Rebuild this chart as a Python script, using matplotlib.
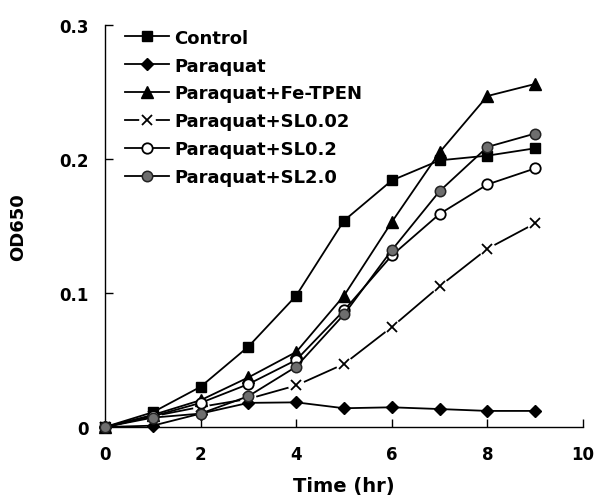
import matplotlib
matplotlib.use("Agg")
import matplotlib.pyplot as plt
from matplotlib.lines import Line2D

plt.rcParams['font.family'] = ['DejaVu Sans']
plt.rcParams['font.weight'] = 'bold'

time_hr = [0, 1, 2, 3, 4, 5, 6, 7, 8, 9]
control = [0, 0.011, 0.030, 0.060, 0.098, 0.154, 0.184, 0.199, 0.2025, 0.208]
paraquat = [0, 0.001, 0.010, 0.018, 0.0184, 0.014, 0.0147, 0.0134, 0.012, 0.012]
fe_tpen = [0, 0.009, 0.020, 0.037, 0.056, 0.098, 0.153, 0.205, 0.247, 0.256]
sl002 = [0, 0.008, 0.015, 0.021, 0.031, 0.047, 0.0746, 0.105, 0.133, 0.152]
sl02 = [0, 0.008, 0.018, 0.032, 0.050, 0.087, 0.128, 0.159, 0.181, 0.193]
sl20 = [0, 0.007, 0.010, 0.023, 0.045, 0.084, 0.132, 0.176, 0.209, 0.219]

labels = ["Control", "Paraquat", "Paraquat+Fe-TPEN", "Paraquat+SL0.02",
          "Paraquat+SL0.2", "Paraquat+SL2.0"]
x_ticks = [0, 2, 4, 6, 8, 10]
y_ticks = [0, 0.1, 0.2, 0.3]
y_ticklabels = ["0", "0.1", "0.2", "0.3"]

fig = plt.figure(figsize=(5.98, 5.02), dpi=100)
ax = fig.add_axes([105/598, 1-428/502, (583-105)/598, (428-26)/502])

lw = 1.3
h1, = ax.plot(time_hr, control, '-', color='black', lw=lw, marker='s', ms=7.5,
              mfc='black', mec='black', clip_on=False, zorder=3)
h2, = ax.plot(time_hr, paraquat, '-', color='black', lw=lw, marker='D', ms=6,
              mfc='black', mec='black', clip_on=False, zorder=3)
h3, = ax.plot(time_hr, fe_tpen, '-', color='black', lw=lw, marker='^', ms=8,
              mfc='black', mec='black', clip_on=False, zorder=3)
hl, = ax.plot(time_hr, sl002, '-', color='black', lw=lw, clip_on=False, zorder=2)
hw, = ax.plot(time_hr, sl002, linestyle='none', marker='o', ms=12, mfc='white',
              mec='none', clip_on=False, zorder=2.5)
hx, = ax.plot(time_hr, sl002, linestyle='none', marker='x', ms=7.5, mew=1.3,
              color='black', clip_on=False, zorder=3)
h5, = ax.plot(time_hr, sl02, '-', color='black', lw=lw, marker='o', ms=7.5,
              mfc='white', mec='black', mew=1.3, clip_on=False, zorder=3)
h6, = ax.plot(time_hr, sl20, '-', color='black', lw=lw, marker='o', ms=7.5,
              mfc='#6e6e6e', mec='#222222', mew=1.1, clip_on=False, zorder=3)

ax.set_xlim(0, 10)
ax.set_ylim(0, 0.3)
ax.set_xticks(x_ticks)
ax.set_yticks(y_ticks)
ax.set_yticklabels(y_ticklabels)
ax.tick_params(direction='in', length=6, width=1, labelsize=12)
ax.tick_params(axis='x', pad=13)
ax.tick_params(axis='y', pad=12)
for t in ax.get_xticklabels() + ax.get_yticklabels():
    t.set_fontweight('bold')
ax.spines['top'].set_visible(False)
ax.spines['right'].set_visible(False)
ax.spines['left'].set_linewidth(1.0)
ax.spines['bottom'].set_linewidth(1.0)

ax.set_xlabel("Time (hr)", fontsize=14, fontweight='bold', labelpad=9)
ax.set_ylabel("OD650", fontsize=13, fontweight='bold', labelpad=23)

leg = ax.legend([h1, h2, h3, (hl, hw, hx), h5, h6], labels, loc='upper left',
                bbox_to_anchor=(0.02, 1.018), frameon=False, fontsize=13,
                handlelength=2.4, handletextpad=0.3, labelspacing=0.55,
                borderaxespad=0.2)
for t in leg.get_texts():
    t.set_fontweight('bold')

fig.savefig("out.png", dpi=100)
